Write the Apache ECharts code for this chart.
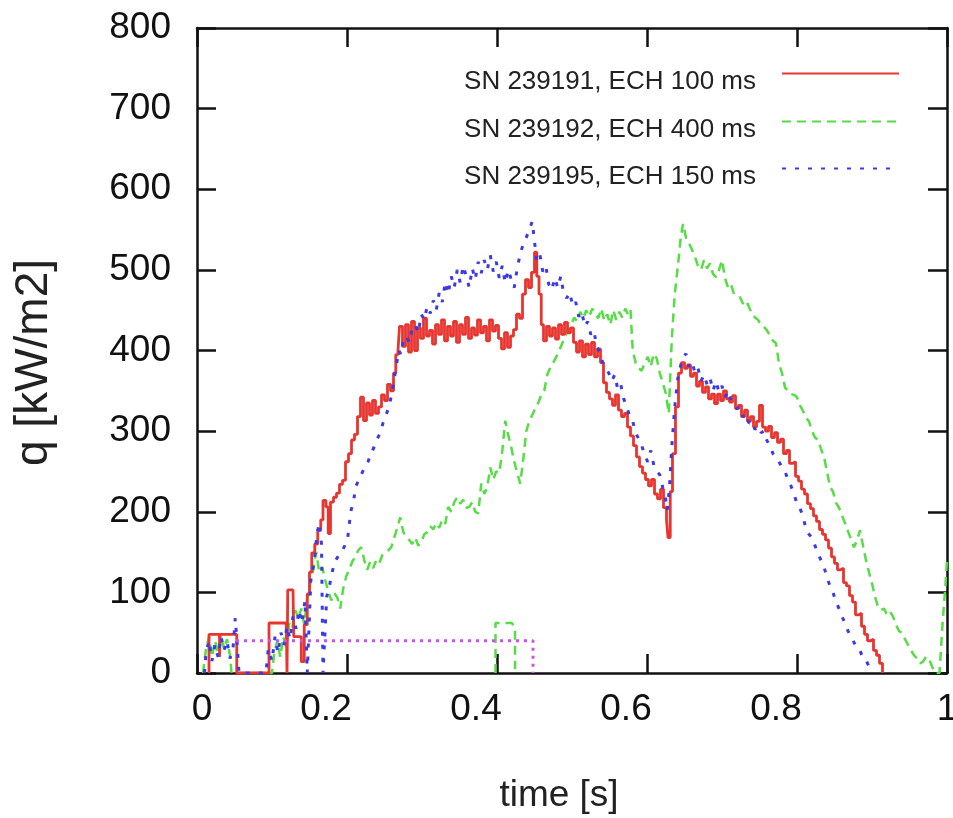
<!DOCTYPE html>
<html>
<head>
<meta charset="utf-8">
<title>q vs time</title>
<script src="https://cdn.jsdelivr.net/npm/echarts@6.0.0/dist/echarts.min.js"></script>
<style>
body { margin: 0; background: #fff; }
#chart { width: 953px; height: 818px; }
</style>
</head>
<body>
<div id="chart"></div>
<script>
// values: [time s, q kW/m2]
var seriesNames = ['SN 239191, ECH 100 ms', 'SN 239192, ECH 400 ms', 'SN 239195, ECH 150 ms'];
var xTicks = [0, 0.2, 0.4, 0.6, 0.8, 1];
var yTicks = [0, 100, 200, 300, 400, 500, 600, 700, 800];

var sn239191 = [
    [0.016,0],[0.016,48],[0.03,48],[0.03,20],[0.031,48],[0.053,48],[0.053,0],
    [0.096,0],[0.096,62],[0.119,62],[0.12,0],[0.121,103],[0.128,103],[0.129,45],[0.135,45],[0.139,14],
    [0.143,60],[0.147,98],[0.15,125],[0.153,149],[0.157,160],[0.161,178],[0.165,190],[0.168,214],
    [0.172,206],[0.175,173],[0.178,212],[0.182,218],[0.186,223],[0.19,234],[0.194,239],[0.198,262],
    [0.202,272],[0.206,289],[0.21,296],[0.214,318],[0.218,342],[0.222,313],[0.226,335],[0.23,320],
    [0.234,338],[0.238,322],[0.242,330],[0.246,345],[0.25,338],[0.254,358],[0.258,350],[0.262,372],
    [0.265,395],[0.268,400],[0.27,430],[0.274,405],[0.278,432],[0.282,398],[0.286,436],[0.29,400],
    [0.294,428],[0.298,415],[0.302,440],[0.306,418],[0.31,425],[0.314,408],[0.318,432],[0.322,420],
    [0.326,438],[0.33,412],[0.334,430],[0.338,418],[0.342,436],[0.346,410],[0.35,432],[0.354,420],
    [0.358,441],[0.362,415],[0.366,428],[0.37,419],[0.374,438],[0.378,422],[0.382,430],[0.386,412],
    [0.39,438],[0.394,424],[0.398,431],[0.402,415],[0.406,402],[0.41,422],[0.414,404],[0.418,418],
    [0.422,426],[0.426,445],[0.43,440],[0.434,470],[0.438,488],[0.442,478],[0.446,497],[0.45,522],
    [0.453,492],[0.456,470],[0.459,432],[0.462,412],[0.466,430],[0.47,418],[0.474,428],[0.478,414],
    [0.482,432],[0.486,420],[0.49,435],[0.494,422],[0.498,428],[0.502,410],[0.506,398],[0.51,412],
    [0.514,392],[0.518,408],[0.522,395],[0.526,410],[0.53,392],[0.534,402],[0.538,385],[0.542,360],
    [0.546,348],[0.55,340],[0.554,332],[0.558,345],[0.562,326],[0.566,318],[0.57,322],[0.574,305],
    [0.578,294],[0.582,282],[0.586,268],[0.59,256],[0.594,248],[0.598,240],[0.602,232],[0.606,240],
    [0.61,222],[0.614,216],[0.618,228],[0.622,205],[0.626,190],[0.628,168],[0.631,225],[0.634,272],
    [0.638,330],[0.642,372],[0.646,385],[0.65,378],[0.654,382],[0.658,368],[0.662,372],[0.666,356],
    [0.67,362],[0.674,348],[0.678,355],[0.682,340],[0.686,346],[0.69,334],[0.694,346],[0.698,338],
    [0.702,350],[0.706,340],[0.71,336],[0.714,344],[0.718,328],[0.722,332],[0.726,318],[0.73,326],
    [0.734,312],[0.738,318],[0.742,305],[0.746,312],[0.75,332],[0.754,305],[0.758,300],[0.762,306],
    [0.766,292],[0.77,298],[0.774,286],[0.778,290],[0.782,272],[0.786,276],[0.79,260],[0.794,262],
    [0.798,244],[0.802,238],[0.806,228],[0.81,222],[0.814,210],[0.818,204],[0.822,195],[0.826,188],
    [0.83,178],[0.834,172],[0.838,165],[0.842,155],[0.846,144],[0.85,136],[0.854,128],[0.858,130],
    [0.862,112],[0.866,108],[0.87,96],[0.874,88],[0.878,72],[0.882,74],[0.886,58],[0.89,48],
    [0.894,40],[0.898,42],[0.902,28],[0.906,22],[0.91,12],[0.914,0]
];

var sn239192 = [
    [0.008,0],[0.012,30],[0.016,45],[0.02,20],[0.024,40],[0.028,25],[0.032,45],[0.036,30],[0.04,42],
    [0.044,22],[0.046,0],[0.1,0],[0.103,25],[0.107,40],[0.111,20],[0.115,45],[0.119,30],[0.123,62],
    [0.127,55],[0.131,78],[0.135,68],[0.139,80],[0.143,60],[0.147,92],[0.151,110],[0.155,128],
    [0.159,150],[0.163,125],[0.167,131],[0.171,115],[0.175,102],[0.179,90],[0.183,99],[0.187,94],
    [0.191,80],[0.195,105],[0.199,120],[0.203,128],[0.207,138],[0.211,144],[0.215,152],[0.219,156],
    [0.223,140],[0.227,128],[0.231,138],[0.235,130],[0.239,140],[0.243,136],[0.247,146],[0.251,149],
    [0.255,152],[0.259,156],[0.263,168],[0.267,180],[0.271,193],[0.275,175],[0.279,169],[0.283,165],
    [0.287,160],[0.291,168],[0.295,158],[0.299,162],[0.303,172],[0.307,175],[0.311,182],[0.315,178],
    [0.319,186],[0.323,180],[0.327,190],[0.331,185],[0.335,206],[0.339,200],[0.343,212],[0.347,218],
    [0.351,210],[0.355,215],[0.359,205],[0.363,206],[0.367,212],[0.371,200],[0.375,198],[0.379,235],
    [0.383,222],[0.387,230],[0.391,255],[0.395,240],[0.399,250],[0.403,248],[0.407,275],[0.411,313],
    [0.415,295],[0.419,280],[0.423,262],[0.427,248],[0.431,235],[0.435,265],[0.439,300],[0.443,312],
    [0.447,320],[0.451,328],[0.455,335],[0.459,345],[0.463,350],[0.467,370],[0.471,379],[0.475,385],
    [0.479,392],[0.483,400],[0.487,409],[0.491,418],[0.495,425],[0.499,432],[0.503,441],[0.507,436],
    [0.511,448],[0.515,440],[0.519,450],[0.523,442],[0.527,452],[0.531,446],[0.535,440],[0.539,452],
    [0.543,437],[0.547,445],[0.551,432],[0.555,450],[0.559,438],[0.563,448],[0.567,441],[0.571,452],
    [0.575,444],[0.578,450],[0.581,400],[0.585,384],[0.589,378],[0.593,375],[0.597,385],[0.601,392],
    [0.605,380],[0.609,396],[0.613,390],[0.617,372],[0.621,360],[0.625,347],[0.629,322],[0.633,413],
    [0.637,470],[0.641,503],[0.645,540],[0.648,557],[0.652,540],[0.656,533],[0.66,525],[0.664,516],
    [0.668,505],[0.672,500],[0.676,512],[0.68,502],[0.684,508],[0.688,495],[0.692,491],[0.696,500],
    [0.7,512],[0.704,490],[0.708,478],[0.712,482],[0.716,470],[0.72,468],[0.724,466],[0.728,458],
    [0.732,462],[0.736,454],[0.74,445],[0.744,441],[0.748,438],[0.752,432],[0.756,429],[0.76,425],
    [0.764,418],[0.768,412],[0.772,409],[0.776,384],[0.78,372],[0.784,354],[0.788,350],[0.792,346],
    [0.796,345],[0.8,342],[0.804,332],[0.808,325],[0.812,317],[0.816,312],[0.82,300],[0.824,292],
    [0.828,289],[0.832,278],[0.836,268],[0.84,250],[0.844,231],[0.848,225],[0.852,211],[0.856,205],
    [0.86,195],[0.864,186],[0.868,176],[0.872,166],[0.876,156],[0.88,165],[0.884,177],[0.888,158],
    [0.892,140],[0.896,125],[0.9,111],[0.904,95],[0.908,82],[0.912,78],[0.916,80],[0.92,72],
    [0.924,76],[0.928,70],[0.932,60],[0.936,52],[0.94,50],[0.944,42],[0.948,35],[0.952,28],
    [0.956,22],[0.96,18],[0.964,12],[0.968,14],[0.972,20],[0.976,18],[0.98,8],[0.984,0],
    [0.99,0],[0.994,60],[0.998,110],[1.0,140]
];

var sn239195 = [
    [0.01,0],[0.012,25],[0.016,40],[0.02,15],[0.024,35],[0.028,20],[0.032,45],[0.036,28],[0.04,40],
    [0.044,18],[0.048,30],[0.051,68],[0.054,30],[0.056,0],[0.092,0],[0.095,30],[0.1,15],[0.104,45],
    [0.108,25],[0.112,50],[0.116,35],[0.12,58],[0.124,42],[0.128,70],[0.132,55],[0.136,78],[0.14,62],
    [0.144,90],[0.147,0],[0.149,0],[0.152,120],[0.156,135],[0.16,172],[0.163,186],[0.166,160],
    [0.168,0],[0.17,0],[0.173,95],[0.177,110],[0.181,128],[0.185,140],[0.189,146],[0.193,150],
    [0.197,158],[0.201,168],[0.205,200],[0.209,215],[0.212,232],[0.216,240],[0.22,248],[0.224,256],
    [0.228,262],[0.232,272],[0.236,280],[0.24,290],[0.244,297],[0.248,310],[0.252,320],[0.256,330],
    [0.26,348],[0.263,365],[0.266,382],[0.269,400],[0.272,395],[0.275,412],[0.279,418],[0.283,410],
    [0.287,428],[0.291,432],[0.295,422],[0.299,445],[0.303,438],[0.307,455],[0.311,446],[0.315,462],
    [0.319,450],[0.323,472],[0.327,460],[0.331,485],[0.335,470],[0.339,492],[0.343,478],[0.347,500],
    [0.351,484],[0.355,505],[0.359,492],[0.363,478],[0.367,502],[0.371,488],[0.375,510],[0.379,496],
    [0.383,512],[0.387,500],[0.391,518],[0.395,498],[0.399,510],[0.403,490],[0.407,505],[0.411,484],
    [0.415,500],[0.419,488],[0.423,478],[0.427,502],[0.431,520],[0.435,532],[0.439,540],[0.443,550],
    [0.447,560],[0.45,535],[0.453,512],[0.457,520],[0.461,498],[0.465,505],[0.469,482],[0.473,475],
    [0.477,490],[0.481,478],[0.485,492],[0.489,470],[0.493,465],[0.497,472],[0.501,455],[0.505,460],
    [0.509,442],[0.513,448],[0.517,430],[0.521,436],[0.525,420],[0.529,425],[0.533,405],[0.537,398],
    [0.541,385],[0.545,378],[0.549,372],[0.553,362],[0.557,370],[0.561,352],[0.565,358],[0.569,340],
    [0.573,330],[0.577,318],[0.581,312],[0.585,298],[0.589,290],[0.593,282],[0.597,270],[0.601,262],
    [0.605,276],[0.609,258],[0.613,250],[0.617,246],[0.621,230],[0.625,215],[0.627,202],[0.63,230],
    [0.633,280],[0.637,330],[0.641,365],[0.645,382],[0.649,392],[0.652,396],[0.656,380],[0.66,386],
    [0.664,372],[0.668,378],[0.672,362],[0.676,370],[0.68,358],[0.684,366],[0.688,350],[0.692,362],
    [0.696,348],[0.7,356],[0.704,342],[0.708,350],[0.712,338],[0.716,335],[0.72,328],[0.724,330],
    [0.728,318],[0.732,322],[0.736,310],[0.74,312],[0.744,302],[0.748,306],[0.752,298],[0.756,300],
    [0.76,288],[0.764,282],[0.768,272],[0.772,268],[0.776,262],[0.78,255],[0.784,250],[0.788,240],
    [0.792,232],[0.796,222],[0.8,210],[0.804,204],[0.808,195],[0.812,178],[0.816,172],[0.82,168],
    [0.824,158],[0.828,148],[0.832,140],[0.836,132],[0.84,118],[0.844,108],[0.848,100],[0.852,88],
    [0.856,80],[0.86,70],[0.864,62],[0.868,52],[0.872,45],[0.876,38],[0.88,30],[0.884,28],
    [0.888,18],[0.892,16],[0.896,8],[0.9,0]
];

// ECH pulse markers near the baseline
var greenPulse = [[0.398,0],[0.398,62],[0.42,62],[0.424,55],[0.424,5]];
var echWindow = [[0.052,40],[0.448,40],[0.448,0]];

var colors = ['#e8352f', '#55dd44', '#3a3ae6', '#d04ef0'];
var font = 'Liberation Sans, Arial, Helvetica, sans-serif';

function legendAt(name, top){
    return {
        data: [name],
        right: 48,
        top: top,
        align: 'right',
        itemWidth: 117,
        itemHeight: 14,
        selectedMode: false,
        itemStyle: { opacity: 0 },
        formatter: function(n){ return '{t|' + n + '}'; },
        textStyle: {
            rich: {
                t: { fontFamily: font, fontSize: 26, color: '#222', padding: [16, 21, 0, 0] }
            }
        }
    };
}

function boxAxis(dim, pos){
    var ax = {
        type: 'value',
        position: pos,
        axisLine: { show: true, onZero: false, lineStyle: { color: '#111', width: 2.5 } },
        axisTick: { show: true, inside: true, length: 19, lineStyle: { color: '#111', width: 2.5 } },
        axisLabel: { show: false },
        splitLine: { show: false }
    };
    if (dim === 'x') { ax.min = 0; ax.max = 1; ax.interval = 0.2; }
    else { ax.min = 0; ax.max = 800; ax.interval = 100; }
    return ax;
}

var myChart = echarts.init(document.getElementById('chart'));

var xBottom = boxAxis('x', 'bottom');
xBottom.min = xTicks[0];
xBottom.max = xTicks[xTicks.length - 1];
xBottom.name = 'time [s]';
xBottom.nameLocation = 'middle';
xBottom.nameGap = 104;
xBottom.nameTextStyle = { fontFamily: font, fontSize: 37, color: '#222', padding: [0, 26, 0, 0] };
xBottom.axisLabel = {
    margin: 18,
    formatter: function(v){
        var s = String(+v.toFixed(1));
        if (s === '0') return '{z|0}';
        if (s === '1') return '{o|1}';
        return '{n|' + s + '}';
    },
    rich: {
        z: { fontFamily: font, fontSize: 37, color: '#111', padding: [0, 0, 0, 10] },
        o: { fontFamily: font, fontSize: 37, color: '#111' },
        n: { fontFamily: font, fontSize: 37, color: '#111', padding: [0, 42, 0, 0] }
    }
};

var yLeft = boxAxis('y', 'left');
yLeft.min = yTicks[0];
yLeft.max = yTicks[yTicks.length - 1];
yLeft.name = 'q [kW/m2]';
yLeft.nameLocation = 'middle';
yLeft.nameGap = 140;
yLeft.nameTextStyle = { fontFamily: font, fontSize: 46, color: '#222', padding: [0, 24, 0, 0] };
yLeft.axisLabel = { margin: 26, fontFamily: font, fontSize: 37, color: '#111' };

var option = {
    animation: false,
    backgroundColor: '#fff',
    grid: { left: 197, right: 6, top: 28, bottom: 145, outerBoundsMode: 'none', containLabel: false },
    legend: [
        legendAt(seriesNames[0], 63),
        legendAt(seriesNames[1], 111),
        legendAt(seriesNames[2], 158)
    ],
    xAxis: [xBottom, boxAxis('x', 'top')],
    yAxis: [yLeft, boxAxis('y', 'right')],
    series: [
        {
            name: seriesNames[0],
            type: 'line',
            step: 'end',
            data: sn239191,
            symbol: 'none',
            lineStyle: { color: colors[0], width: 2.8 },
            itemStyle: { color: colors[0] },
            z: 3
        },
        {
            name: seriesNames[1],
            type: 'line',
            data: sn239192,
            symbol: 'none',
            lineStyle: { color: colors[1], width: 2.5, type: [9, 6] },
            itemStyle: { color: colors[1] },
            z: 2
        },
        {
            name: seriesNames[2],
            type: 'line',
            data: sn239195,
            symbol: 'none',
            lineStyle: { color: colors[2], width: 3, type: [4, 9] },
            itemStyle: { color: colors[2] },
            z: 4
        },
        {
            name: 'green pulse',
            type: 'line',
            data: greenPulse,
            symbol: 'none',
            lineStyle: { color: colors[1], width: 2.5, type: [9, 6] },
            z: 2
        },
        {
            name: 'ECH window',
            type: 'line',
            data: echWindow,
            symbol: 'none',
            lineStyle: { color: colors[3], width: 3, type: [3, 5] },
            z: 5
        }
    ]
};
myChart.setOption(option);
</script>
</body>
</html>
